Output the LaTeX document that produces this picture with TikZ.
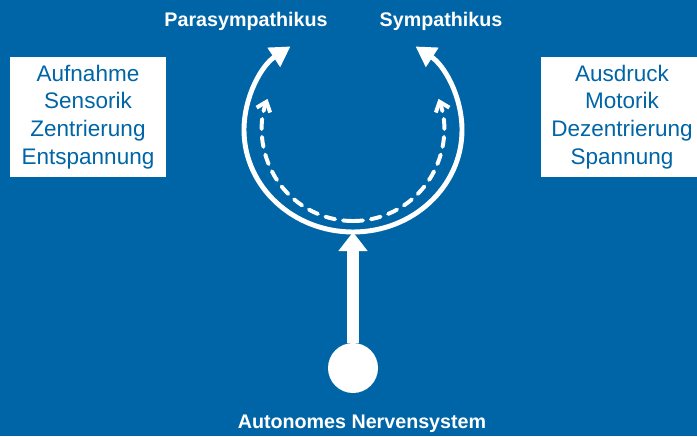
\documentclass[tikz,border=0pt]{standalone}
\usepackage{fontspec}
\setmainfont{Liberation Sans}
\usetikzlibrary{arrows.meta}
\definecolor{nervblue}{RGB}{0,101,166}
\tikzstyle{arrow} = [white,line width=3.5pt,-{Triangle[length=0.5cm,width=0.55cm]}]

\begin{document}
\begin{tikzpicture}[x=0.025cm,y=0.025cm]
    \tikzstyle{every node}=[font=\fontsize{16}{19.8}\selectfont]
    \tikzstyle{infobox} = [rectangle, fill=white, text=nervblue, align=center, inner sep=0pt, minimum width=3.875cm, minimum height=3cm]
    \tikzstyle{branch} = [text=white, inner sep=0pt, font=\fontsize{14}{16}\selectfont\bfseries]
    \tikzstyle{dasharrow} = [white, line width=2.8pt, line cap=round, dash pattern=on 0.25cm off 0.2cm, -{Straight Barb[length=0.22cm,width=0.36cm]}]

    \fill[nervblue] (0,0) rectangle (697,436);
    \clip (0,0) rectangle (697,436);

    \node[infobox](calm) at (88,319) {Aufnahme\\Sensorik\\Zentrierung\\Entspannung};
    \node[infobox, minimum width=4.05cm](tense) at (622,319) {Ausdruck\\Motorik\\Dezentrierung\\Spannung};

    \node[branch](para) at (246,415) {Parasympathikus};
    \node[branch](sym) at (441,415) {Sympathikus};

    \node[circle, fill=white, inner sep=0pt, minimum size=1.25cm](ans) at (353,68) {};
    \node[branch](ansname) at (362,12) {Autonomes Nervensystem};

    \coordinate (bot) at (353,204);
    \coordinate (dbot) at (353,215);

    % solid loop
    \draw[arrow] (bot) arc[start angle=270, end angle=125, x radius=109, y radius=102];
    \draw[arrow] (bot) arc[start angle=-90, end angle=55, x radius=109, y radius=102];

    % dashed loop
    \draw[dasharrow] (dbot) arc[start angle=270, end angle=160, radius=91];
    \draw[dasharrow] (dbot) arc[start angle=-90, end angle=20, radius=91];

    % stem
    \draw[white, line width=8.5pt, -{Triangle[length=0.475cm,width=0.7cm]}] (ans.north) -- (bot);
\end{tikzpicture}
\end{document}
